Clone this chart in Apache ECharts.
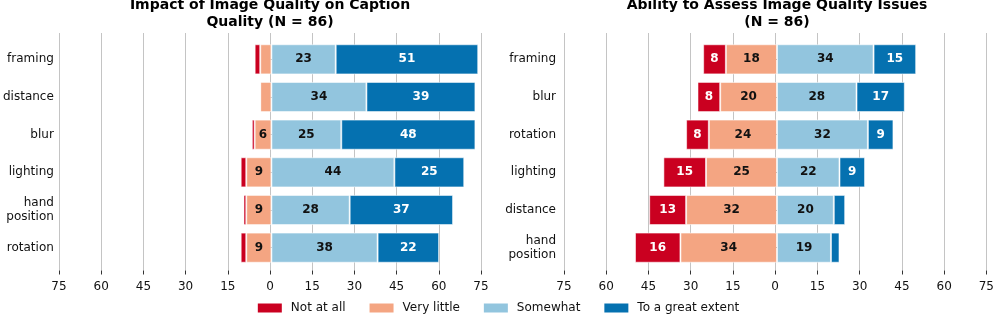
<!DOCTYPE html>
<html>
<head>
<meta charset="utf-8">
<script src="https://cdn.jsdelivr.net/npm/echarts@6/dist/echarts.min.js"></script>
<style>
html,body{margin:0;padding:0;background:#fff;}
#chart{width:997px;height:319px;}
</style>
</head>
<body>
<div id="chart"></div>
<script>
// ---- Data ----
const seriesNames = ['Not at all', 'Very little', 'Somewhat', 'To a great extent'];
const xTicks = [-75, -60, -45, -30, -15, 0, 15, 30, 45, 60, 75];

// Left panel: Impact of Image Quality on Caption Quality
const impactCategories = ['framing', 'distance', 'blur', 'lighting', 'hand\nposition', 'rotation'];
const impactNotAtAll   = [2, 0, 1, 2, 1, 2];
const impactVeryLittle = [4, 4, 6, 9, 9, 9];
const impactSomewhat   = [23, 34, 25, 44, 28, 38];
const impactGreat      = [51, 39, 48, 25, 37, 22];

// Right panel: Ability to Assess Image Quality Issues
const abilityCategories = ['framing', 'blur', 'rotation', 'lighting', 'distance', 'hand\nposition'];
const abilityNotAtAll   = [8, 8, 8, 15, 13, 16];
const abilityVeryLittle = [18, 20, 24, 25, 32, 34];
const abilitySomewhat   = [34, 28, 32, 22, 20, 19];
const abilityGreat      = [15, 17, 9, 9, 4, 3];

// ---- Styles ----
const colors = ['#ca0020', '#f4a582', '#92c5de', '#0571b0'];
const labelColors = ['#ffffff', '#111111', '#111111', '#ffffff'];
const FONT = 'DejaVu Sans';

const panels = [
  {left: 59, width: 422, cats: impactCategories, d: [impactNotAtAll, impactVeryLittle, impactSomewhat, impactGreat],
   title: 'Impact of Image Quality on Caption\nQuality (N = 86)'},
  {left: 564, width: 426, cats: abilityCategories, d: [abilityNotAtAll, abilityVeryLittle, abilitySomewhat, abilityGreat],
   title: 'Ability to Assess Image Quality Issues\n(N = 86)'}
];

const grids = [], xAxes = [], yAxes = [], series = [], titles = [];
panels.forEach((p, i) => {
  // background grid (grid lines & x tick labels)
  grids.push({left: p.left, width: p.width, top: 33, height: 237.5});
  // bar grid
  grids.push({left: p.left, width: p.width, top: 40.5, height: 226});
  const bg = i * 2, bar = i * 2 + 1;
  xAxes.push({
    gridIndex: bg, type: 'value', min: xTicks[0], max: xTicks[xTicks.length - 1], interval: 15,
    axisLine: {show: false},
    axisTick: {show: true, length: 4, lineStyle: {color: '#333', width: 1}},
    splitLine: {show: true, lineStyle: {color: '#c4c4c4', width: 1}},
    axisLabel: {formatter: v => String(Math.abs(v)), fontSize: 12, color: '#111', fontFamily: FONT, margin: 10}
  });
  xAxes.push({gridIndex: bar, type: 'value', min: xTicks[0], max: xTicks[xTicks.length - 1], show: false});
  yAxes.push({gridIndex: bg, type: 'value', show: false, min: 0, max: 1});
  yAxes.push({
    gridIndex: bar, type: 'category', data: p.cats, inverse: true,
    axisLine: {show: false},
    axisTick: {show: true, length: 4, alignWithLabel: true, lineStyle: {color: '#333', width: 1}},
    axisLabel: {fontSize: 12, color: '#111', fontFamily: FONT, margin: 8, lineHeight: 14, align: 'right'}
  });
  titles.push({
    text: p.title, left: p.left + p.width / 2, top: -3, textAlign: 'center', padding: 0,
    textStyle: {fontFamily: FONT, fontWeight: 'bold', fontSize: 14, lineHeight: 17, color: '#000'}
  });
  // stacking order: nearest zero first
  [1, 0, 2, 3].forEach(k => {
    const neg = k < 2;
    series.push({
      name: seriesNames[k], type: 'bar', stack: 'p' + i,
      xAxisIndex: bar, yAxisIndex: bar,
      barWidth: '80%',
      data: p.d[k].map(v => neg ? -v : v),
      itemStyle: {color: colors[k], borderColor: 'rgba(255,255,255,0.55)', borderWidth: 1},
      label: {
        show: true, position: 'inside', fontFamily: FONT, fontWeight: 'bold', fontSize: 12,
        color: labelColors[k],
        formatter: prm => Math.abs(prm.value) >= 5 ? String(Math.abs(prm.value)) : ''
      },
      emphasis: {disabled: true},
      animation: false
    });
  });
});

const chart = echarts.init(document.getElementById('chart'), null, {renderer: 'canvas'});
chart.setOption({
  animation: false,
  backgroundColor: '#ffffff',
  title: titles,
  grid: grids,
  xAxis: xAxes,
  yAxis: yAxes,
  legend: {
    data: seriesNames, left: 'center', top: 302, padding: 0,
    icon: 'rect', itemWidth: 24, itemHeight: 9, itemGap: 24,
    itemStyle: {borderWidth: 0},
    textStyle: {fontFamily: FONT, fontSize: 12, color: '#111', padding: [0, 0, 0, 4]},
    selectedMode: false
  },
  series: series
});
</script>
</body>
</html>
